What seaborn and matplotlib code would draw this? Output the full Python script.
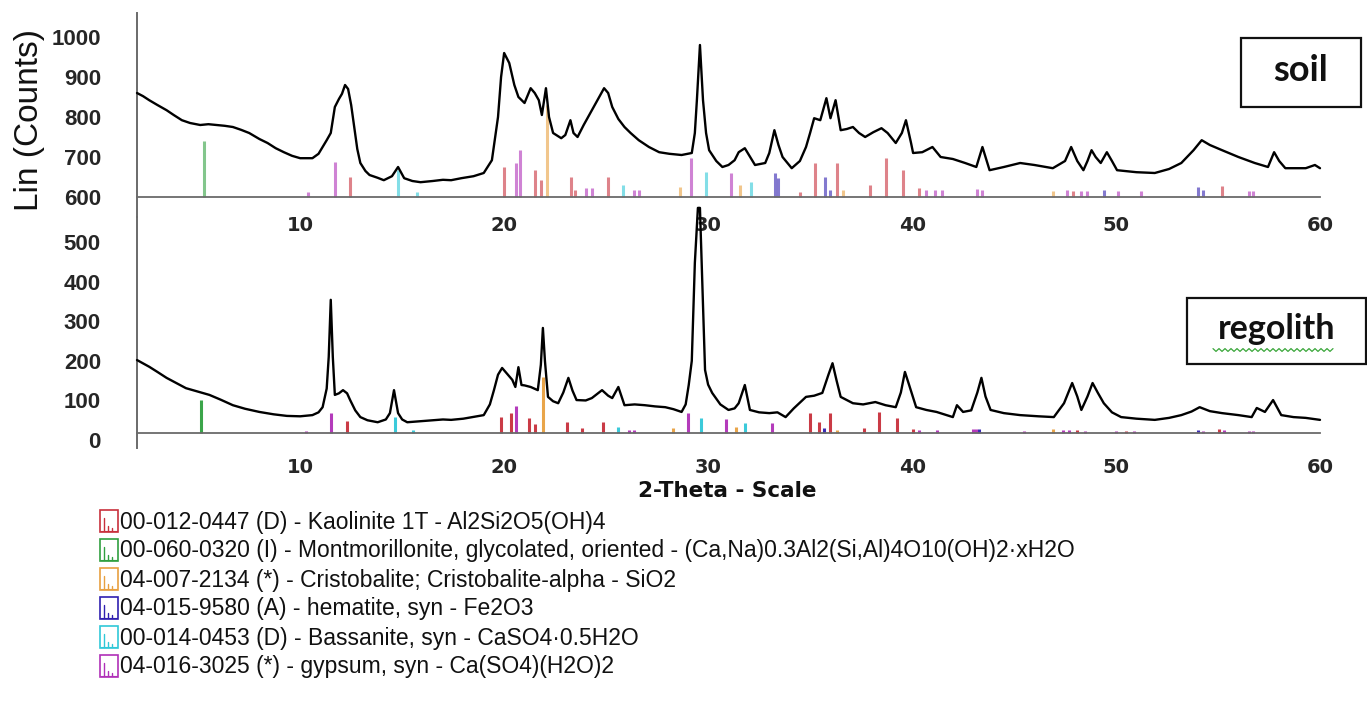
import numpy as np
import pandas as pd
import matplotlib
matplotlib.use("Agg")
import matplotlib.pyplot as plt
import seaborn as sns
from matplotlib.patches import Rectangle
from matplotlib.lines import Line2D
from matplotlib import font_manager

# ---------------- data ----------------
soil_2theta = [2.0, 2.3, 2.6, 3.0, 3.45, 3.8, 4.2, 4.6, 5.1, 5.5, 5.9, 6.3, 6.7, 7.1, 7.5, 8.0, 8.4, 8.8, 9.2, 9.6,
               10.0, 10.6, 10.9, 11.1, 11.3, 11.5, 11.7, 11.9, 12.05, 12.2, 12.35, 12.5, 12.65, 12.8, 12.95, 13.2,
               13.4, 13.8, 14.1, 14.5, 14.8, 15.1, 15.5, 15.9, 16.5, 17.0, 17.4, 17.9, 18.5, 19.0, 19.4, 19.7,
               19.85, 20.0, 20.25, 20.5, 20.7, 21.0, 21.3, 21.5, 21.7, 21.85, 22.05, 22.2, 22.4, 22.8, 23.0, 23.25,
               23.4, 23.6, 23.9, 24.3, 24.6, 24.9, 25.1, 25.3, 25.6, 25.9, 26.2, 26.6, 27.1, 27.6, 28.1, 28.7,
               29.2, 29.35, 29.45, 29.6, 29.75, 29.9, 30.05, 30.4, 30.7, 31.0, 31.3, 31.5, 31.8, 32.0, 32.3, 32.8,
               33.0, 33.25, 33.45, 33.65, 34.1, 34.5, 34.8, 35.0, 35.2, 35.5, 35.8, 36.0, 36.25, 36.5, 36.8, 37.1,
               37.4, 37.7, 38.1, 38.5, 38.8, 39.2, 39.5, 39.7, 39.95, 40.05, 40.5, 41.0, 41.4, 42.0, 42.6, 43.15,
               43.45, 43.8, 44.5, 45.3, 46.0, 46.9, 47.5, 47.8, 48.1, 48.4, 48.6, 48.8, 49.0, 49.25, 49.55, 49.8,
               50.05, 51.0, 51.9, 52.6, 53.2, 53.8, 54.2, 54.6, 55.2, 56.0, 56.8, 57.45, 57.75, 58.0, 58.3, 59.3,
               59.75, 60.0]
soil_counts = [860, 852, 842, 830, 817, 805, 792, 785, 780, 782, 780, 778, 775, 768, 760, 745, 735, 722, 712, 703,
               697, 697, 708, 725, 742, 760, 825, 845, 858, 880, 870, 830, 775, 720, 685, 665,
               655, 648, 642, 652, 675, 647, 640, 637, 640, 643, 642, 647, 652, 660, 692, 800,
               900, 960, 935, 880, 850, 835, 872, 860, 842, 805, 872, 800, 760, 747, 755, 792,
               760, 750, 780, 817, 845, 872, 860, 825, 795, 775, 760, 742, 725, 712, 708, 705,
               710, 760, 842, 980, 842, 760, 717, 690, 675, 680, 692, 712, 722, 705, 680, 685,
               710, 767, 730, 700, 672, 690, 725, 760, 797, 792, 847, 797, 842, 767, 770, 775,
               760, 750, 762, 772, 760, 735, 760, 792, 735, 710, 712, 725, 700, 695, 685, 675,
               725, 667, 675, 685, 680, 672, 690, 725, 690, 667, 690, 717, 700, 685, 712, 690,
               667, 662, 660, 670, 685, 717, 742, 730, 717, 700, 685, 675, 712, 690, 672, 672,
               680, 672]

regolith_2theta = [2.0, 2.6, 3.0, 3.45, 4.0, 4.4, 5.0, 5.55, 6.1, 6.7, 7.3, 8.0, 8.7, 9.35, 10.0, 10.6, 10.9, 11.1,
                   11.3, 11.4, 11.5, 11.6, 11.7, 11.9, 12.1, 12.3, 12.45, 12.7, 12.95, 13.3, 13.8, 14.2, 14.4, 14.6,
                   14.8, 15.0, 15.25, 16.0, 17.0, 17.4, 18.0, 19.0, 19.3, 19.5, 19.7, 19.9, 20.1, 20.4, 20.55, 20.7,
                   20.85, 21.0, 21.3, 21.65, 21.8, 21.9, 22.0, 22.15, 22.4, 22.65, 22.9, 23.15, 23.35, 23.55, 24.0,
                   24.3, 24.8, 25.1, 25.3, 25.6, 25.9, 26.4, 26.9, 27.4, 27.9, 28.3, 28.7, 28.9, 29.05, 29.2, 29.35,
                   29.5, 29.6, 29.7, 29.85, 30.0, 30.2, 30.6, 31.0, 31.3, 31.5, 31.8, 32.05, 32.5, 33.0, 33.4, 33.8,
                   34.2, 34.8, 35.2, 35.6, 35.9, 36.1, 36.3, 36.5, 37.1, 37.6, 38.2, 38.7, 39.2, 39.45, 39.65, 39.85,
                   40.2, 40.7, 41.2, 42.0, 42.2, 42.5, 42.9, 43.2, 43.4, 43.6, 43.85, 44.5, 45.3, 46.2, 46.95, 47.45,
                   47.85, 48.1, 48.3, 48.6, 48.85, 49.1, 49.4, 49.8, 50.25, 51.0, 51.9, 52.6, 53.2, 53.7, 54.1, 54.6,
                   55.2, 56.0, 56.65, 56.9, 57.3, 57.7, 58.1, 58.7, 59.3, 60.0]
regolith_counts = [202, 185, 172, 157, 142, 131, 122, 114, 102, 88, 79, 71, 65, 61, 60, 63, 70, 83,
                   130, 210, 354, 210, 114, 118, 126, 118, 101, 75, 58, 50, 45, 52, 68, 126,
                   68, 52, 45, 48, 52, 51, 54, 63, 90, 126, 165, 182, 170, 152, 134, 184,
                   139, 138, 134, 126, 190, 283, 200, 109, 98, 93, 120, 157, 125, 101, 100,
                   106, 126, 112, 106, 134, 88, 90, 88, 85, 83, 78, 71, 90, 139, 200, 447,
                   586, 586, 422, 177, 140, 119, 90, 76, 80, 93, 139, 76, 70, 68, 70, 58,
                   80, 109, 112, 119, 165, 194, 150, 109, 93, 90, 96, 88, 83, 120, 172, 140,
                   83, 76, 71, 58, 88, 71, 75, 120, 157, 110, 76, 68, 63, 60, 58, 93,
                   144, 110, 76, 110, 144, 120, 93, 70, 58, 54, 51, 56, 63, 72, 83, 73,
                   68, 63, 58, 81, 71, 101, 63, 58, 56, 51]

# reference-pattern sticks (position, top of stick in counts, phase code)
soil_stick_pos = [5.27, 10.4, 11.7, 12.45, 14.8, 15.75, 20.0, 20.6, 20.8, 21.5, 21.8, 22.1, 23.3, 23.45, 24.0,
                  24.3, 25.1, 25.85, 26.35, 26.6, 28.6, 29.15, 29.9, 31.1, 31.55, 32.1, 33.3, 33.45, 34.5,
                  35.25, 35.75, 36.0, 36.3, 36.6, 37.95, 38.7, 39.55, 40.35, 40.7, 41.1, 41.45, 43.2, 43.45,
                  46.9, 47.6, 47.9, 48.3, 48.6, 49.4, 50.1, 51.2, 54.0, 54.25, 55.2, 56.5, 56.7]
soil_stick_top = [740, 612, 687, 650, 667, 612, 675, 685, 717, 667, 642, 830, 650, 617, 622,
                  622, 650, 630, 617, 617, 625, 697, 662, 660, 630, 637, 660, 647, 612,
                  685, 650, 617, 685, 617, 630, 697, 667, 622, 617, 617, 617, 620, 617,
                  615, 617, 615, 615, 614, 617, 615, 614, 625, 617, 628, 615, 615]
soil_stick_phase = ["M", "G", "G", "K", "B", "B", "K", "G", "G", "K", "K", "C", "K", "K", "G",
                    "G", "K", "B", "G", "G", "C", "G", "B", "G", "C", "B", "H", "H", "K",
                    "K", "H", "H", "K", "C", "K", "K", "K", "K", "G", "G", "G", "G", "G",
                    "C", "G", "K", "G", "G", "H", "G", "G", "H", "H", "K", "G", "G"]

regolith_stick_pos = [5.15, 10.3, 11.5, 12.3, 14.65, 15.55, 19.85, 20.35, 20.6, 21.2, 21.5, 21.9, 23.1, 23.8,
                      24.85, 25.6, 26.1, 26.35, 28.3, 29.0, 29.65, 30.9, 31.35, 31.8, 33.15, 35.0, 35.45, 35.7,
                      36.0, 36.3, 37.65, 38.4, 39.25, 40.05, 40.35, 41.2, 43.0, 43.15, 43.3, 45.5, 46.9, 47.4,
                      47.7, 48.1, 48.5, 50.0, 50.5, 50.9, 54.0, 54.25, 55.05, 55.3, 56.5, 56.7]
regolith_stick_top = [101, 22, 68, 48, 58, 25, 58, 68, 86, 56, 40, 160, 45, 30,
                      45, 33, 25, 25, 30, 68, 56, 53, 33, 43, 43, 68, 45, 30,
                      68, 25, 30, 71, 56, 27, 25, 25, 28, 28, 28, 24, 27, 25,
                      26, 25, 24, 24, 23, 24, 25, 24, 27, 25, 24, 24]
regolith_stick_phase = ["M", "G", "G", "K", "B", "B", "K", "K", "G", "K", "K", "C", "K", "K",
                        "K", "B", "G", "G", "C", "G", "B", "G", "C", "B", "G", "K", "K", "H",
                        "K", "C", "K", "K", "K", "K", "G", "G", "G", "G", "H", "G", "C", "G",
                        "G", "K", "G", "G", "K", "G", "H", "G", "K", "G", "G", "G"]

phase_codes = ["K", "M", "C", "H", "B", "G"]
phase_labels = [
    "00-012-0447 (D) - Kaolinite 1T - Al2Si2O5(OH)4",
    "00-060-0320 (I) - Montmorillonite, glycolated, oriented - (Ca,Na)0.3Al2(Si,Al)4O10(OH)2·xH2O",
    "04-007-2134 (*) - Cristobalite; Cristobalite-alpha - SiO2",
    "04-015-9580 (A) - hematite, syn - Fe2O3",
    "00-014-0453 (D) - Bassanite, syn - CaSO4·0.5H2O",
    "04-016-3025 (*) - gypsum, syn - Ca(SO4)(H2O)2",
]
phase_colors = ["#c8303c", "#30a040", "#e8a040", "#3020b0", "#30c8d8", "#b030b8"]

soil_yticks = [600, 700, 800, 900, 1000]
soil_yminor = [650, 750, 850, 950, 1050]
regolith_yticks = [0, 100, 200, 300, 400, 500]
regolith_yminor = [50, 150, 250, 350, 450, 550]
x_major = [5, 10, 15, 20, 25, 30, 35, 40, 45, 50, 55, 60]
x_labels = ["", "10", "", "20", "", "30", "", "40", "", "50", "", "60"]
x_minor = list(range(2, 61))

# ---------------- style ----------------
sns.set_style("white")
names = {f.name for f in font_manager.fontManager.ttflist}
NARROW = "Liberation Sans Narrow" if "Liberation Sans Narrow" in names else "Liberation Sans"
plt.rcParams["font.family"] = ["Liberation Sans", "DejaVu Sans"]

W, H = 1367, 705
fig = plt.figure(figsize=(W / 100, H / 100), dpi=100)
fig.patch.set_facecolor("white")


def box(x0, y0, x1, y1):
    return [x0 / W, 1 - y1 / H, (x1 - x0) / W, (y1 - y0) / H]


def fx(px):
    return px / W


def fy(py):
    return 1 - py / H


ax_top = fig.add_axes(box(137, 13, 1320, 217))
ax_bot = fig.add_axes(box(137, 217, 1320, 448))

soil_df = pd.DataFrame({"2theta": soil_2theta, "counts": soil_counts})
reg_df = pd.DataFrame({"2theta": regolith_2theta, "counts": regolith_counts})
soil_st = pd.DataFrame({"pos": soil_stick_pos, "top": soil_stick_top, "phase": soil_stick_phase})
reg_st = pd.DataFrame({"pos": regolith_stick_pos, "top": regolith_stick_top, "phase": regolith_stick_phase})

GRAY = "#6a6a6a"

for ax, df, st, base, ylim, ymaj, ymin, alpha, xpad in [
    (ax_top, soil_df, soil_st, 600, (550, 1060), soil_yticks, soil_yminor, 0.6, 7),
    (ax_bot, reg_df, reg_st, 17, (-20, 563), regolith_yticks, regolith_yminor, 0.95, 11),
]:
    ax.patch.set_alpha(0)
    for code, col in zip(phase_codes, phase_colors):
        sub = st[st["phase"] == code]
        if len(sub):
            ax.vlines(sub["pos"], base, sub["top"], colors=col, lw=2.2, alpha=alpha, zorder=2)
    sns.lineplot(data=df, x="2theta", y="counts", ax=ax, color="black", lw=1.7,
                 estimator=None, sort=False, zorder=3)
    for ln in ax.lines:
        ln.set_clip_on(False)
    ax.set_xlim(2, 60)
    ax.set_ylim(*ylim)
    ax.set_xlabel("")
    ax.set_ylabel("")
    for s in ["top", "right"]:
        ax.spines[s].set_visible(False)
    ax.spines["left"].set_color(GRAY)
    ax.spines["left"].set_linewidth(1.4)
    ax.spines["bottom"].set_color(GRAY)
    ax.spines["bottom"].set_linewidth(1.3)
    ax.spines["bottom"].set_position(("data", base))
    ax.set_yticks(ymaj)
    ax.set_yticklabels([str(v) for v in ymaj], fontweight="bold", fontsize=16, family="Liberation Sans")
    ax.set_yticks(ymin, minor=True)
    ax.set_xticks(x_major)
    ax.set_xticklabels(x_labels, fontweight="bold", fontsize=14, family="DejaVu Sans")
    ax.set_xticks(x_minor, minor=True)
    ax.tick_params(axis="y", which="major", length=16, width=1.5, color=GRAY, pad=10, direction="out")
    ax.tick_params(axis="y", which="minor", length=11.5, width=1.5, color=GRAY, direction="out")
    ax.tick_params(axis="x", which="major", length=6.5, width=1.1, color=GRAY, pad=xpad, direction="out")
    ax.tick_params(axis="x", which="minor", length=3, width=1.0, color=GRAY, direction="out")
    ax.grid(False)

ax_bot.set_zorder(3)
ax_top.set_zorder(2)

# axis titles
fig.text(fx(30), fy(120), "Lin (Counts)", rotation=90, ha="center", va="center",
         fontsize=24, family="Liberation Sans", color="#111111")
fig.text(fx(727), fy(491), "2-Theta - Scale", ha="center", va="center",
         fontsize=15.5, fontweight="bold", family="DejaVu Sans", color="#111111")

# sample boxes
for (x0, y0, x1, y1, label, size) in [(1241, 38, 1361, 107, "soil", 26),
                                      (1187, 298, 1366, 364, "regolith", 24.5)]:
    fig.add_artist(Rectangle((fx(x0), fy(y1)), (x1 - x0) / W, (y1 - y0) / H,
                             transform=fig.transFigure, facecolor="white",
                             edgecolor="#111111", lw=1.6, zorder=5))
    fig.text(fx((x0 + x1) / 2), fy((y0 + y1) / 2 - 2), label, ha="center", va="center",
             fontsize=size, fontweight="bold", family=["Lato", "DejaVu Sans"],
             color="#111111", zorder=6)

# spell-check squiggle under "regolith"
sq_x = np.arange(1213, 1334, 3)
sq_y = 350 + 1.4 * np.where(np.arange(len(sq_x)) % 2 == 0, -1, 1)
fig.add_artist(Line2D(sq_x / W, 1 - sq_y / H, transform=fig.transFigure,
                      color="#3aa63a", lw=0.9, zorder=7))

# legend of reference patterns
for i, (lab, col) in enumerate(zip(phase_labels, phase_colors)):
    yc = 521 + 29 * i
    fig.add_artist(Rectangle((fx(100), fy(yc + 11)), 18 / W, 22 / H, transform=fig.transFigure,
                             facecolor="none", edgecolor=col, lw=1.2))
    for sx, top in [(104, yc - 3), (108, yc + 5), (112, yc + 7)]:
        fig.add_artist(Line2D([fx(sx), fx(sx)], [fy(yc + 10), fy(top)],
                              transform=fig.transFigure, color=col, lw=1.0))
    fig.add_artist(Line2D([fx(101), fx(117)], [fy(yc + 10), fy(yc + 10)],
                          transform=fig.transFigure, color=col, lw=0.8))
    fig.text(fx(120), fy(yc + 1), lab, ha="left", va="center", fontsize=16.5,
             family=[NARROW, "Liberation Sans"], color="#111111")

fig.savefig("out.png", dpi=100, facecolor="white")
